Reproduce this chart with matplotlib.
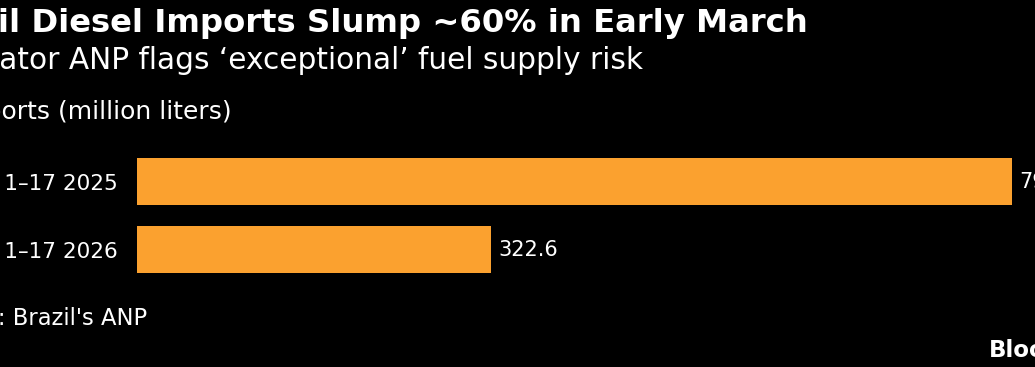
import matplotlib
matplotlib.use("Agg")
from matplotlib import pyplot as plt

# data
CATEGORIES = ["Mar. 1\u201317 2025", "Mar. 1\u201317 2026"]
IMPORTS = [797.4, 322.6]
VALUE_LABELS = ["797.4", "322.6"]

TITLE = "Brazil Diesel Imports Slump ~60% in Early March"
SUBTITLE = "Regulator ANP flags \u2018exceptional\u2019 fuel supply risk"
UNITS = "Diesel imports (million liters)"
SOURCE = "Source: Brazil's ANP"

BG = "#000000"
BAR = "#FBA12F"
W, H = 1035, 367


def fx(px):
    return px / W


def fy(py):
    return 1 - py / H


def plot():
    plt.rcParams['font.family'] = ['DejaVu Sans']
    fig = plt.figure(figsize=(W / 100, H / 100), dpi=100, facecolor=BG)

    # axes placed in pixels: bars start at x=137
    scale = 354 / 322.6
    ax = fig.add_axes([fx(137), fy(290.3), 1 - fx(137), (290.3 - 140.7) / H])
    ax.set_facecolor(BG)
    ax.barh(range(len(CATEGORIES)), IMPORTS, height=0.69, color=BAR)
    ax.set_xlim(0, (W - 137) / scale)
    ax.set_ylim(1.6, -0.6)

    ax.set_yticks(range(len(CATEGORIES)))
    ax.set_yticklabels(CATEGORIES, color="white", fontsize=15.5)
    ax.tick_params(axis='y', length=0, pad=14)
    ax.set_xticks([])
    for s in ax.spines.values():
        s.set_visible(False)

    for i, (v, lab) in enumerate(zip(IMPORTS, VALUE_LABELS)):
        ax.annotate(lab, (v, i), xytext=(5, 0), textcoords='offset points',
                    va='center', ha='left', color="white", fontsize=15)

    fig.text(fx(808), fy(32), TITLE, ha='right', va='baseline',
             color="white", fontsize=23.25, fontweight='bold')
    fig.text(fx(643), fy(69), SUBTITLE, ha='right', va='baseline',
             color="white", fontsize=21.3)
    fig.text(fx(232), fy(119), UNITS, ha='right', va='baseline',
             color="white", fontsize=18)
    fig.text(fx(147), fy(325), SOURCE, ha='right', va='baseline',
             color="white", fontsize=16.3)
    fig.text(fx(989), fy(357), "Bloomberg", ha='left', va='baseline',
             color="white", fontsize=16.5, fontweight='bold')

    fig.savefig('out.png', dpi=100, facecolor=BG)


if __name__ == '__main__':
    plot()
